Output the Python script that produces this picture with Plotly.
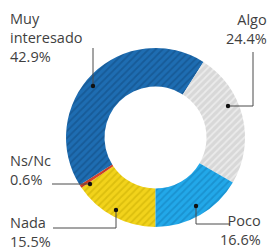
import plotly.graph_objects as go

# ---- data (clockwise from 6 o'clock) ----
categories = ["Nada", "Ns/Nc", "Muy interesado", "Algo", "Poco"]
values = [15.5, 0.6, 42.9, 24.4, 16.6]
label_names = ["Nada", "Ns/Nc", "Muy<br>interesado", "Algo", "Poco"]

# ---- style ----
W, H = 271, 250
colors = ["#f2d31b", "#d9452b", "#1e6db2", "#d8d8d8", "#22a8e9"]
stripes = ["#dcbf0e", "#c23a22", "#175b98", "#ebebeb", "#1a92d0"]
TEXT = "#3f3f3f"
FONT = "Open Sans"

cx, cy, R = 155.5, 137.5, 89.5


def fx(x):
    return x / W


def fy(y):
    return 1 - y / H


fig = go.Figure(
    go.Pie(
        labels=categories,
        values=values,
        hole=0.57,
        sort=False,
        direction="clockwise",
        rotation=180,
        textinfo="none",
        hoverinfo="skip",
        showlegend=False,
        marker=dict(
            colors=colors,
            line=dict(color="white", width=0),
            pattern=dict(shape="/", size=5, solidity=0.35,
                         fgcolor=stripes, bgcolor=colors,
                         fgopacity=1, fillmode="overlay"),
        ),
        domain=dict(x=[fx(cx - R), fx(cx + R)], y=[fy(cy + R), fy(cy - R)]),
    )
)

# label placement (pixels): x, top y, anchor
label_pos = {
    "Muy interesado": (8, 7, "left"),
    "Algo": (269, 8, "right"),
    "Ns/Nc": (8, 149, "left"),
    "Nada": (8, 211, "left"),
    "Poco": (263, 209, "right"),
}
# leader paths (pixels); last point is the dot
leaders = {
    "Muy interesado": [(93, 48), (93, 86)],
    "Algo": [(253, 52), (253, 106), (228, 106)],
    "Ns/Nc": [(52, 184), (90, 184)],
    "Nada": [(53, 228), (116, 228), (116, 210)],
    "Poco": [(230, 224), (196, 224), (196, 206)],
}

annotations = []
shapes = []
for cat, name, v in zip(categories, label_names, values):
    x, y, anchor = label_pos[cat]
    annotations.append(dict(
        x=fx(x), y=fy(y), xref="paper", yref="paper",
        xanchor=anchor, yanchor="top", align=anchor,
        text=f"{name}<br>{v:.1f}%", showarrow=False,
        font=dict(family=FONT, size=14.5, color=TEXT),
    ))
    pts = leaders[cat]
    path = "M " + " L ".join(f"{fx(px)},{fy(py)}" for px, py in pts)
    shapes.append(dict(type="path", path=path, xref="paper", yref="paper",
                       line=dict(color="#4a4a4a", width=1), layer="above"))
    dx, dy = pts[-1]
    r = 2.2
    shapes.append(dict(type="circle", xref="paper", yref="paper",
                       x0=fx(dx - r), x1=fx(dx + r), y0=fy(dy + r), y1=fy(dy - r),
                       fillcolor="#111111", line=dict(width=0), layer="above"))

fig.update_layout(
    width=W, height=H, autosize=False,
    margin=dict(l=0, r=0, t=0, b=0),
    paper_bgcolor="white", plot_bgcolor="white",
    annotations=annotations, shapes=shapes,
    font=dict(family=FONT),
)

fig.write_html(
    "out.html",
    config={"displayModeBar": False},
    post_script="document.body.style.margin='0';document.body.style.overflow='hidden';",
)
